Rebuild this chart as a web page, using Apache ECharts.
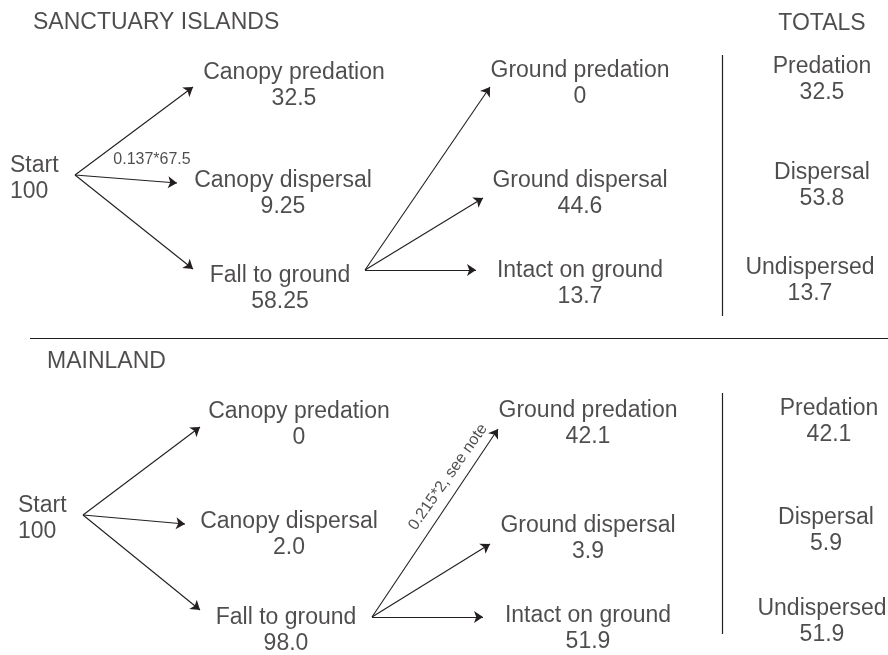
<!DOCTYPE html>
<html>
<head>
<meta charset="utf-8">
<title>Seed fate</title>
<script src="https://cdn.jsdelivr.net/npm/echarts@6.0.0/dist/echarts.min.js"></script>
<style>
  html, body { margin: 0; padding: 0; background: #fff; }
  #chart { width: 888px; height: 655px; }
</style>
</head>
<body>
<div id="chart"></div>
<script>
// --- data ---
const stageNames = ['Canopy predation', 'Canopy dispersal', 'Fall to ground',
                    'Ground predation', 'Ground dispersal', 'Intact on ground'];
const totalNames = ['Predation', 'Dispersal', 'Undispersed'];
const panelTitles = ['SANCTUARY ISLANDS', 'MAINLAND'];
const totalsTitle = 'TOTALS';
const startValue = '100';

const islandStage = ['32.5', '9.25', '58.25', '0', '44.6', '13.7'];
const islandTotal = ['32.5', '53.8', '13.7'];
const islandNote = '0.137*67.5';

const mainlandStage = ['0', '2.0', '98.0', '42.1', '3.9', '51.9'];
const mainlandTotal = ['42.1', '5.9', '51.9'];
const mainlandNote = '0.215*2, see note';

// --- layout (pixel space of the 888x655 picture) ---
const layout = [
  {
    title: [33, 23],
    start: [10, 179],
    origin: [75, 175],
    fallOrigin: [365, 270],
    stage: [[294, 86], [283, 194], [280, 289], [580, 84], [580, 194], [580, 284]],
    ends: [[193, 87], [177, 183], [193, 269], [490, 87], [483, 198], [476, 270]],
    totals: [[822, 80], [822, 186], [810, 281]],
    divider: [[722, 55], [722, 316]],
    note: [152, 160, 0]
  },
  {
    title: [47, 362],
    start: [18, 519],
    origin: [83, 515],
    fallOrigin: [372, 617],
    stage: [[299, 425], [289, 535], [286, 631], [588, 424], [588, 539], [588, 629]],
    ends: [[200, 427], [185, 524], [200, 610], [498, 429], [490, 544], [483, 617]],
    totals: [[829, 422], [826, 531], [822, 622]],
    divider: [[722, 393], [722, 634]],
    note: [448, 477, 55]
  }
];
const totalsTitlePos = [822, 24];
const separator = [[30, 338], [888, 338]];

const ink = '#231f20';
const font = "'Liberation Sans', Arial, Helvetica, sans-serif";

const panels = [
  { stage: islandStage, total: islandTotal, note: islandNote },
  { stage: mainlandStage, total: mainlandTotal, note: mainlandNote }
];

// build label points and arrows
let texts = [];
let arrows = [];
let rules = [{ coords: separator }];

panels.forEach(function (p, i) {
  const L = layout[i];
  texts.push({ value: L.title, text: panelTitles[i], align: 'left' });
  texts.push({ value: L.start, text: 'Start\n' + startValue, align: 'left' });
  stageNames.forEach(function (name, k) {
    texts.push({ value: L.stage[k], text: name + '\n' + p.stage[k], align: 'center' });
    const from = k < 3 ? L.origin : L.fallOrigin;
    arrows.push({ coords: [from, L.ends[k]] });
  });
  totalNames.forEach(function (name, k) {
    texts.push({ value: L.totals[k], text: name + '\n' + p.total[k], align: 'center' });
  });
  texts.push({ value: [L.note[0], L.note[1]], text: p.note, align: 'center', small: true, rotate: L.note[2] });
  rules.push({ coords: L.divider });
});
texts.push({ value: totalsTitlePos, text: totalsTitle, align: 'center' });

const chart = echarts.init(document.getElementById('chart'));

chart.setOption({
  animation: false,
  backgroundColor: '#fff',
  grid: { left: 0, right: 0, top: 0, bottom: 0 },
  xAxis: { type: 'value', min: 0, max: 888, show: false },
  yAxis: { type: 'value', min: 0, max: 655, inverse: true, show: false },
  series: [
    {
      type: 'lines',
      coordinateSystem: 'cartesian2d',
      clip: false,
      silent: true,
      symbol: ['none', 'none'],
      lineStyle: { color: ink, width: 1.2, opacity: 1 },
      data: rules
    },
    {
      type: 'lines',
      coordinateSystem: 'cartesian2d',
      clip: false,
      silent: true,
      symbol: ['none', 'arrow'],
      symbolSize: [0, 9],
      lineStyle: { color: ink, width: 1.1, opacity: 1 },
      itemStyle: { color: ink },
      data: arrows
    },
    {
      type: 'scatter',
      clip: false,
      silent: true,
      symbolSize: 1,
      itemStyle: { color: 'rgba(0,0,0,0)' },
      data: texts.map(function (t) {
        return {
          value: t.value,
          label: {
            show: true,
            position: 'inside',
            formatter: t.text,
            align: t.align,
            verticalAlign: 'middle',
            rotate: t.rotate || 0,
            color: ink,
            fontFamily: font,
            fontSize: t.small ? 16 : 23,
            lineHeight: t.small ? 18 : 26
          }
        };
      })
    }
  ]
});
</script>
</body>
</html>
